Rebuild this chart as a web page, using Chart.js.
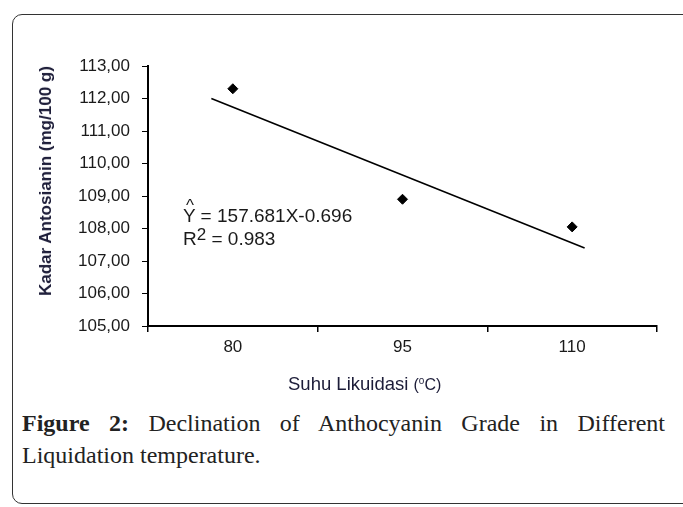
<!DOCTYPE html>
<html lang="id">
<head>
  <meta charset="UTF-8" />
  <title>Kadar Antosianin vs Suhu Likuidasi</title>
  <script src="https://cdn.jsdelivr.net/npm/chart.js"></script>
  <style>
    html, body { margin: 0; padding: 0; background: #fff; overflow: hidden; }
    body { width: 683px; height: 507px; position: relative; font-family: "Liberation Sans", Arial, sans-serif; }
    .frame {
      position: absolute; left: 12px; top: 14px; width: 720px; height: 490px;
      border: 1px solid #333; border-radius: 10px; box-sizing: border-box;
    }
    .chart-wrap { position: absolute; left: 0; top: 0; width: 683px; height: 400px; }
    .y-title {
      position: absolute; left: 46px; top: 181px; white-space: nowrap;
      transform: translate(-50%, -50%) rotate(-90deg);
      font-weight: bold; font-size: 17px; color: #1c1c38;
    }
    .x-title { position: absolute; left: 288px; top: 371px; font-size: 18.5px; line-height: 20px; color: #1c1c38; white-space: nowrap; }
    .x-title .unit { font-size: 16px; }
    .x-title sup { font-size: 10px; }
    .eq { position: absolute; left: 183px; top: 204px; font-size: 19px; line-height: 23px; color: #1a1a1a; white-space: nowrap; }
    .eq .hat { position: relative; }
    .eq .hat::before { content: "^"; position: absolute; left: 3px; top: -11px; font-size: 17px; }
    .eq sup { font-size: 17px; line-height: 0; vertical-align: 5px; }
    .caption {
      position: absolute; left: 22px; top: 407px; width: 643px;
      font-family: "Liberation Serif", "Times New Roman", serif; font-size: 24px; line-height: 32px; color: #222;
    }
    .caption .l1 { text-align: justify; text-align-last: justify; }
  </style>
</head>
<body>
  <div class="frame"></div>
  <div class="chart-wrap"><canvas id="chart"></canvas></div>
  <div class="y-title">Kadar Antosianin (mg/100 g)</div>
  <div class="x-title">Suhu Likuidasi <span class="unit">(<sup>o</sup>C)</span></div>
  <div class="eq"><span class="hat">Y</span> = 157.681X-0.696<br>R<sup>2</sup> = 0.983</div>
  <div class="caption">
    <div class="l1"><b>Figure 2:</b> Declination of Anthocyanin Grade in Different</div>
    <div>Liquidation temperature.</div>
  </div>

  <script>
    // data
    const suhuLabels = ['80', '95', '110'];
    const suhu = [80, 95, 110];
    const kadar = [112.3, 108.9, 108.05];
    // regression line end points (as drawn)
    const trendSuhu = [78.1, 111.1];
    const trendKadar = [112.0, 107.4];

    const tickFont = { family: '"Liberation Sans", Arial, sans-serif', size: 17 };

    new Chart(document.getElementById('chart'), {
      type: 'line',
      data: {
        labels: suhuLabels,
        datasets: [
          {
            label: 'Kadar Antosianin',
            data: suhu.map((t, i) => ({ x: t, y: kadar[i] })),
            xAxisID: 'xt',
            showLine: false,
            pointStyle: 'rectRot',
            pointRadius: 5,
            backgroundColor: '#000',
            borderColor: '#000'
          },
          {
            label: 'Trend',
            data: trendSuhu.map((t, i) => ({ x: t, y: trendKadar[i] })),
            xAxisID: 'xt',
            borderColor: '#000',
            borderWidth: 1.6,
            pointRadius: 0,
            fill: false
          }
        ]
      },
      options: {
        responsive: true,
        maintainAspectRatio: false,
        animation: false,
        layout: { padding: { left: 0, top: 66, right: 26, bottom: 34 } },
        plugins: { legend: { display: false }, tooltip: { enabled: false } },
        scales: {
          x: {
            type: 'category',
            offset: true,
            grid: { offset: true, drawOnChartArea: false, tickLength: 6, color: '#000', lineWidth: 1.5 },
            border: { color: '#000', width: 2 },
            ticks: { color: '#1a1a1a', font: tickFont, padding: 5 },
            afterFit: s => { s.height = 40; }
          },
          xt: {
            type: 'linear',
            display: false,
            min: 72.5,
            max: 117.5
          },
          y: {
            min: 105,
            max: 113,
            grid: { drawOnChartArea: false, tickLength: 6, color: '#000', lineWidth: 1 },
            border: { color: '#000', width: 2 },
            ticks: {
              stepSize: 1,
              color: '#1a1a1a',
              font: tickFont,
              padding: 12,
              callback: v => v.toFixed(2).replace('.', ',')
            },
            afterFit: s => { s.width = 148; }
          }
        }
      }
    });
  </script>
</body>
</html>
